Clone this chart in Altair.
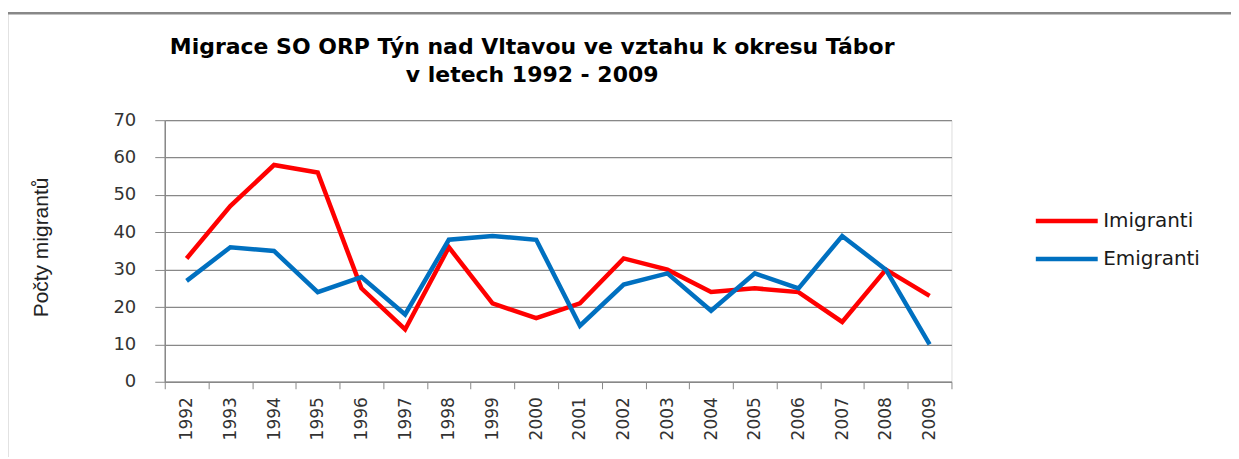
import altair as alt
import pandas as pd

years = [str(y) for y in range(1992, 2010)]
imigranti = [33, 47, 58, 56, 25, 14, 36, 21, 17, 21, 33, 30, 24, 25, 24, 16, 30, 23]
emigranti = [27, 36, 35, 24, 28, 18, 38, 39, 38, 15, 26, 29, 19, 29, 25, 39, 30, 10]
series_names = ["Imigranti", "Emigranti"]
series_colors = ["#FF0000", "#0070C0"]

rows = []
for name, vals in zip(series_names, [imigranti, emigranti]):
    for i, (y, v) in enumerate(zip(years, vals)):
        rows.append({"rok": y, "hodnota": v, "serie": name, "ord": series_names.index(name)})
df = pd.DataFrame(rows)

W, H = 788, 262
GRAY = "#888888"

lines = alt.Chart(df).mark_line(strokeWidth=4.5).encode(
    x=alt.X(
        "rok:O",
        bandPosition=0.5,
        scale=alt.Scale(type="band", paddingInner=0, paddingOuter=0),
        axis=alt.Axis(
            title=None,
            labelAngle=-90,
            labelAlign="right",
            labelBaseline="middle",
            labelFont="DejaVu Sans",
            labelFontSize=17,
            labelColor="#333333",
            labelPadding=8,
            tickBand="extent",
            tickSize=7,
            tickColor=GRAY,
            domainColor=GRAY,
            domainWidth=1.5,
            grid=False,
        ),
    ),
    y=alt.Y(
        "hodnota:Q",
        scale=alt.Scale(domain=[0, 70], nice=False),
        axis=alt.Axis(
            title="Počty migrantů",
            values=[0, 10, 20, 30, 40, 50, 60, 70],
            titleFont="Liberation Sans",
            titleFontSize=21,
            titleFontWeight="normal",
            titleColor="#222222",
            titleX=-123,
            titleY=127,
            titleAlign="center",
            titleBaseline="middle",
            titleAngle=270,
            labelFont="DejaVu Sans",
            labelFontSize=18,
            labelColor="#333333",
            labelPadding=19,
            tickSize=10,
            tickColor=GRAY,
            domainColor=GRAY,
            domainWidth=1.5,
            grid=True,
            gridColor=GRAY,
            gridWidth=1.2,
        ),
    ),
    color=alt.Color(
        "serie:N",
        scale=alt.Scale(domain=series_names, range=series_colors),
        legend=alt.Legend(
            title=None,
            orient="none",
            legendX=870,
            legendY=91,
            symbolType="stroke",
            symbolSize=3844,
            symbolStrokeWidth=4.5,
            clipHeight=20,
            rowPadding=18,
            labelOffset=3,
            labelFont="DejaVu Sans",
            labelFontSize=20,
            labelColor="#1a1a1a",
        ),
    ),
    order=alt.Order("ord:Q"),
)

frame_df = pd.DataFrame({"a": [0]})
left_border = alt.Chart(frame_df).mark_rule(color=GRAY, strokeWidth=2.5).encode(
    x=alt.value(-158), y=alt.value(-107), y2=alt.value(400)
)
top_border = alt.Chart(frame_df).mark_rule(color=GRAY, strokeWidth=2.5).encode(
    x=alt.value(-159), x2=alt.value(1200), y=alt.value(-107)
)

chart = alt.layer(left_border, top_border, lines).properties(
    width=W,
    height=H,
    autosize=alt.AutoSizeParams(type="none"),
    padding={"left": 157, "top": 112, "right": 280, "bottom": 75},
    title=alt.TitleParams(
        text=["Migrace SO ORP Týn nad Vltavou ve vztahu k okresu Tábor", "v letech 1992 - 2009"],
        anchor="middle",
        dx=-26,
        dy=75,
        offset=0,
        font="DejaVu Sans",
        fontSize=22,
        fontWeight="bold",
        lineHeight=28,
        color="#000000",
    ),
).configure_view(stroke=None).configure(background="white")

chart.save("out.html", embed_options={"renderer": "svg", "actions": False})
